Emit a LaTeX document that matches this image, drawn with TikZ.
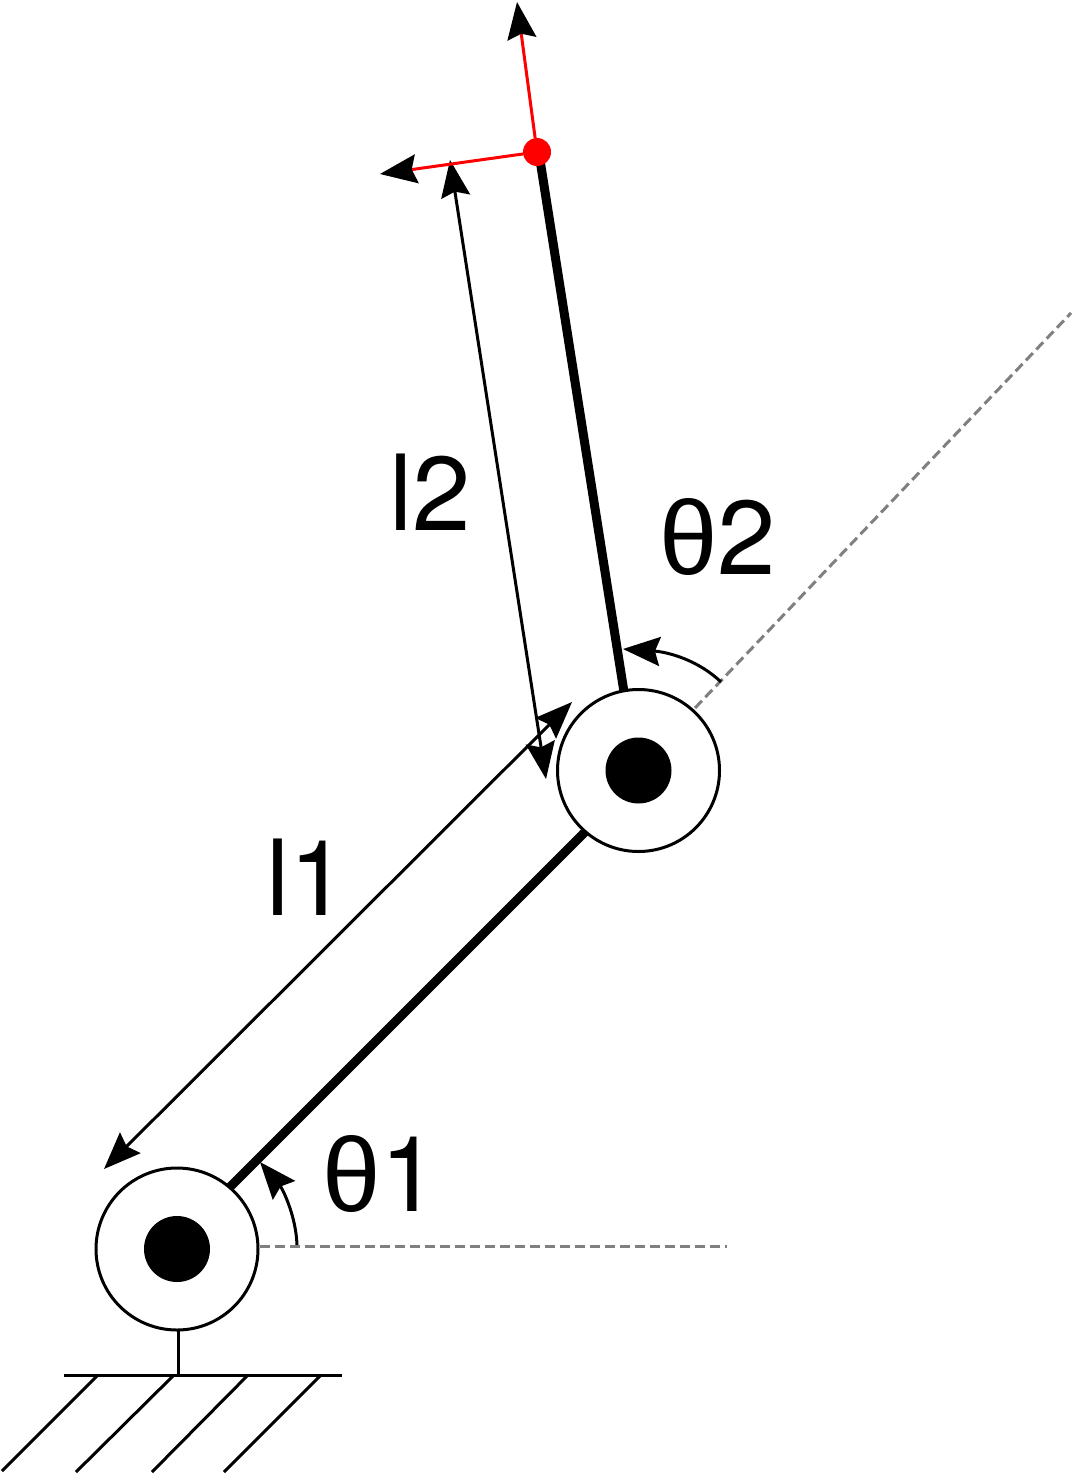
\documentclass[tikz,border=0pt]{standalone}
\usepackage{fontspec}
\setmainfont{TeX Gyre Heros}
\newfontfamily\greekfont{Liberation Sans}
\usetikzlibrary{arrows.meta}
\tikzset{
  tipshape/.tip={Stealth[length=37pt,width=29pt,inset=5pt,black]},
  head/.style={-tipshape},
  dblhead/.style={tipshape-tipshape},
  joint/.style={circle,draw=black,fill=white,line width=3pt,minimum size=162pt,inner sep=0pt},
  hub/.style={circle,fill=black,minimum size=66pt,inner sep=0pt,outer sep=0pt},
  reddot/.style={circle,fill=red,minimum size=28pt,inner sep=0pt,outer sep=0pt},
  linkbar/.style={line width=9pt,black},
  thin line/.style={line width=3pt,black},
  redarrow/.style={line width=3pt,red,head},
  guide/.style={line width=3pt,gray,dash pattern=on 10pt off 5pt},
  lab/.style={anchor=base west,inner sep=0pt,outer sep=0pt,font=\fontsize{105}{105}\selectfont},
}
\begin{document}
\begin{tikzpicture}[x=1pt,y=-1pt]
\useasboundingbox (0,0) rectangle (1071,1474);
% coordinates
\coordinate (g1) at (64,1375);
\coordinate (g2) at (342,1375);
\coordinate (s0) at (178,1330);
\coordinate (s) at (178,1375);
\coordinate (h1a) at (98,1375); \coordinate (h1b) at (2,1471);
\coordinate (h2a) at (174,1375); \coordinate (h2b) at (76,1472);
\coordinate (h3a) at (248,1375); \coordinate (h3b) at (152,1472);
\coordinate (h4a) at (321,1375); \coordinate (h4b) at (224,1472);
\coordinate (d1a) at (260,1246); \coordinate (d1b) at (727,1246);
\coordinate (d2a) at (695,708); \coordinate (d2b) at (1071,313);
\coordinate (xt) at (380,174); \coordinate (yt) at (517,2);
\coordinate (l2a) at (450,160); \coordinate (l2b) at (546,779);
\coordinate (l1a) at (572,702); \coordinate (l1b) at (104,1169);
\coordinate (a1s) at (297,1245); \coordinate (a1e) at (260,1162);
\coordinate (a2s) at (721,682); \coordinate (a2e) at (623,649);
\coordinate (k1a) at (229,1188); \coordinate (k1b) at (586,831);
\coordinate (k2a) at (624,692); \coordinate (k2b) at (540,160);
% guides
\draw[guide] (d1a) -- (d1b);
\draw[guide] (d2a) -- (d2b);
% links
\draw[linkbar] (k1a) -- (k1b);
\draw[linkbar] (k2a) -- (k2b);
% joints
\node[joint] (base) at (177,1249) {};
\node[joint] (elbow) at (638.5,770.5) {};
\node[hub] (basehub) at (177,1249) {};
\node[hub] (elbowhub) at (638.5,770.5) {};
% ground
\draw[thin line] (s0) -- (s);
\draw[thin line] (g1) -- (g2);
\draw[thin line] (h1a) -- (h1b);
\draw[thin line] (h2a) -- (h2b);
\draw[thin line] (h3a) -- (h3b);
\draw[thin line] (h4a) -- (h4b);
% dimension arrows
\draw[thin line,dblhead] (l1a) -- (l1b);
\draw[thin line,dblhead] (l2a) -- (l2b);
% angle arcs
\draw[thin line,head] (a1s) .. controls (296,1215) and (282,1188) .. (a1e);
\draw[thin line,head] (a2s) .. controls (698,660) and (668,652) .. (a2e);
% end effector
\node[reddot] (tip) at (537,152) {};
\draw[redarrow] (tip) -- (xt);
\draw[redarrow] (tip) -- (yt);
% labels
\node[lab] (L2) at (389,530) {l2};
\node[lab] (T2) at (659,574) {{\greekfont θ}2};
\node[lab] (L1) at (266,915) {l1};
\node[lab] (T1) at (322,1211) {{\greekfont θ}1};
\end{tikzpicture}
\end{document}
